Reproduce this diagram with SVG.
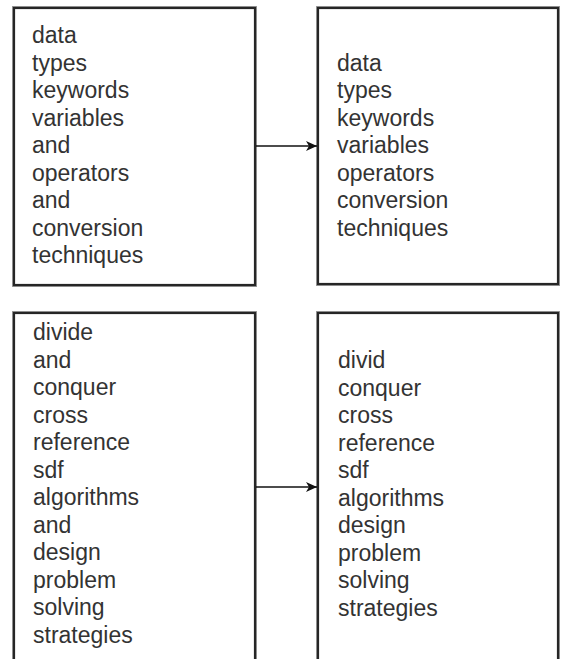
<svg xmlns="http://www.w3.org/2000/svg" width="561" height="659" viewBox="0 0 561 659">
<style>
.halo{fill:none;stroke:#9a9a9a;stroke-width:4}
.box{fill:#fff;stroke:#262626;stroke-width:2.2}
.t{font-family:"Liberation Sans",Arial,sans-serif;font-size:23px;fill:#333}
.conn{stroke:#111;stroke-width:1.3;fill:none}
</style>
<defs>
<marker id="arr" markerWidth="12" markerHeight="12" refX="11" refY="6" orient="auto" markerUnits="userSpaceOnUse">
<path d="M0,1 L11,6 L0,11 L3,6 Z" fill="#111"/>
</marker>
</defs>
<rect width="561" height="659" fill="#fff"/>
<g id="node1">
<rect class="halo" x="14" y="8" width="241" height="277"/>
<rect class="box" x="14" y="8" width="241" height="277"/>
<text class="t" x="32" y="43"><tspan x="32" dy="0">data</tspan><tspan x="32" dy="27.5">types</tspan><tspan x="32" dy="27.5">keywords</tspan><tspan x="32" dy="27.5">variables</tspan><tspan x="32" dy="27.5">and</tspan><tspan x="32" dy="27.5">operators</tspan><tspan x="32" dy="27.5">and</tspan><tspan x="32" dy="27.5">conversion</tspan><tspan x="32" dy="27.5">techniques</tspan></text>
</g>
<g id="node2">
<rect class="halo" x="318" y="8" width="240" height="276"/>
<rect class="box" x="318" y="8" width="240" height="276"/>
<text class="t" x="337" y="70.5"><tspan x="337" dy="0">data</tspan><tspan x="337" dy="27.5">types</tspan><tspan x="337" dy="27.5">keywords</tspan><tspan x="337" dy="27.5">variables</tspan><tspan x="337" dy="27.5">operators</tspan><tspan x="337" dy="27.5">conversion</tspan><tspan x="337" dy="27.5">techniques</tspan></text>
</g>
<g id="node3">
<rect class="halo" x="14" y="313" width="241" height="360"/>
<rect class="box" x="14" y="313" width="241" height="360"/>
<text class="t" x="33" y="340"><tspan x="33" dy="0">divide</tspan><tspan x="33" dy="27.5">and</tspan><tspan x="33" dy="27.5">conquer</tspan><tspan x="33" dy="27.5">cross</tspan><tspan x="33" dy="27.5">reference</tspan><tspan x="33" dy="27.5">sdf</tspan><tspan x="33" dy="27.5">algorithms</tspan><tspan x="33" dy="27.5">and</tspan><tspan x="33" dy="27.5">design</tspan><tspan x="33" dy="27.5">problem</tspan><tspan x="33" dy="27.5">solving</tspan><tspan x="33" dy="27.5">strategies</tspan></text>
</g>
<g id="node4">
<rect class="halo" x="318" y="313" width="240" height="360"/>
<rect class="box" x="318" y="313" width="240" height="360"/>
<text class="t" x="338" y="368"><tspan x="338" dy="0">divid</tspan><tspan x="338" dy="27.5">conquer</tspan><tspan x="338" dy="27.5">cross</tspan><tspan x="338" dy="27.5">reference</tspan><tspan x="338" dy="27.5">sdf</tspan><tspan x="338" dy="27.5">algorithms</tspan><tspan x="338" dy="27.5">design</tspan><tspan x="338" dy="27.5">problem</tspan><tspan x="338" dy="27.5">solving</tspan><tspan x="338" dy="27.5">strategies</tspan></text>
</g>
<g id="connectors">
<line class="conn" x1="256" y1="146" x2="317" y2="146" marker-end="url(#arr)"/>
<line class="conn" x1="256" y1="487" x2="317" y2="487" marker-end="url(#arr)"/>
</g>
</svg>
